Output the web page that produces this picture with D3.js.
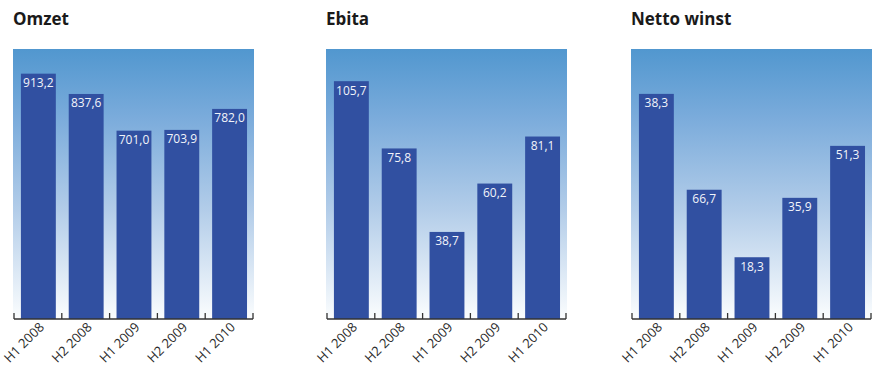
<!DOCTYPE html>
<html><head><meta charset="utf-8">
<script src="https://cdn.jsdelivr.net/npm/d3@7"></script>
<style>
html,body{margin:0;padding:0;background:#fff;}
svg{display:block;font-family:"Open Sans",sans-serif;}
</style></head>
<body>
<svg id="chart" width="874" height="368"></svg>
<script>
const categories = ["H1 2008", "H2 2008", "H1 2009", "H2 2009", "H1 2010"];
const titles = ["Omzet", "Ebita", "Netto winst"];
const omzetValues = [913.2, 837.6, 701.0, 703.9, 782.0];
const ebitaValues = [105.7, 75.8, 38.7, 60.2, 81.1];
// bar heights as drawn; printed labels of the first two bars are swapped in the source
const nettoValues = [66.7, 38.3, 18.3, 35.9, 51.3];
const nettoLabels = ["38,3", "66,7", "18,3", "35,9", "51,3"];
const yMaxes = [1005, 120, 80];

const fmt = v => d3.format(".1f")(v).replace(".", ",");
const panels = [
  {title: titles[0], values: omzetValues, labels: omzetValues.map(fmt), yMax: yMaxes[0], x0: 13},
  {title: titles[1], values: ebitaValues, labels: ebitaValues.map(fmt), yMax: yMaxes[1], x0: 326},
  {title: titles[2], values: nettoValues, labels: nettoLabels, yMax: yMaxes[2], x0: 631}
];

const svg = d3.select("#chart");
const defs = svg.append("defs");
const grad = defs.append("linearGradient").attr("id", "bg").attr("x1", 0).attr("y1", 0).attr("x2", 0).attr("y2", 1);
grad.append("stop").attr("offset", "0%").attr("stop-color", "#5197cf");
grad.append("stop").attr("offset", "25%").attr("stop-color", "#7aabdb");
grad.append("stop").attr("offset", "60%").attr("stop-color", "#b3cde9");
grad.append("stop").attr("offset", "100%").attr("stop-color", "#fbfdfe");

const plotTop = 49, base = 319, bgW = 241;
const barColor = "#3150a1";

panels.forEach(p => {
  const g = svg.append("g");
  g.append("text").attr("x", p.x0).attr("y", 25)
    .attr("font-size", 17).attr("font-weight", 700).attr("fill", "#1a1a1a")
    .text(p.title);
  g.append("rect").attr("x", p.x0).attr("y", plotTop).attr("width", bgW).attr("height", base - plotTop)
    .attr("fill", "url(#bg)");

  const x = d3.scaleBand().domain(categories).range([p.x0 + 1, p.x0 + bgW - 1]).padding(0);
  const y = d3.scaleLinear().domain([0, p.yMax]).range([base, plotTop]);
  const bw = x.bandwidth();

  g.selectAll("rect.bar").data(p.values).join("rect").attr("class", "bar")
    .attr("x", (d, i) => x(categories[i]) + bw * 0.145)
    .attr("width", bw * 0.73)
    .attr("y", d => y(d))
    .attr("height", d => base - y(d))
    .attr("fill", barColor);

  g.selectAll("text.val").data(p.values).join("text").attr("class", "val")
    .attr("x", (d, i) => x(categories[i]) + bw * 0.145 + bw * 0.365)
    .attr("y", d => y(d) + 13.5)
    .attr("text-anchor", "middle").attr("font-size", 12).attr("fill", "#f2f4fa")
    .text((d, i) => p.labels[i]);

  const ax = g.append("g");
  ax.append("line").attr("x1", x.range()[0]).attr("x2", x.range()[1])
    .attr("y1", base).attr("y2", base).attr("stroke", "#333").attr("stroke-width", 1.5);
  const tickPos = categories.map(c => x(c)).concat([x.range()[1]]);
  ax.selectAll("line.tick").data(tickPos).join("line").attr("class", "tick")
    .attr("x1", d => d).attr("x2", d => d).attr("y1", base).attr("y2", base - 6)
    .attr("stroke", "#333").attr("stroke-width", 1.3);
  ax.selectAll("text.cat").data(categories).join("text").attr("class", "cat")
    .attr("transform", c => `translate(${x(c) + bw / 2 + 7},${base + 9}) rotate(-45)`)
    .attr("text-anchor", "end").attr("font-size", 13).attr("fill", "#2a2a2a")
    .text(c => c);
});
</script>
</body></html>
